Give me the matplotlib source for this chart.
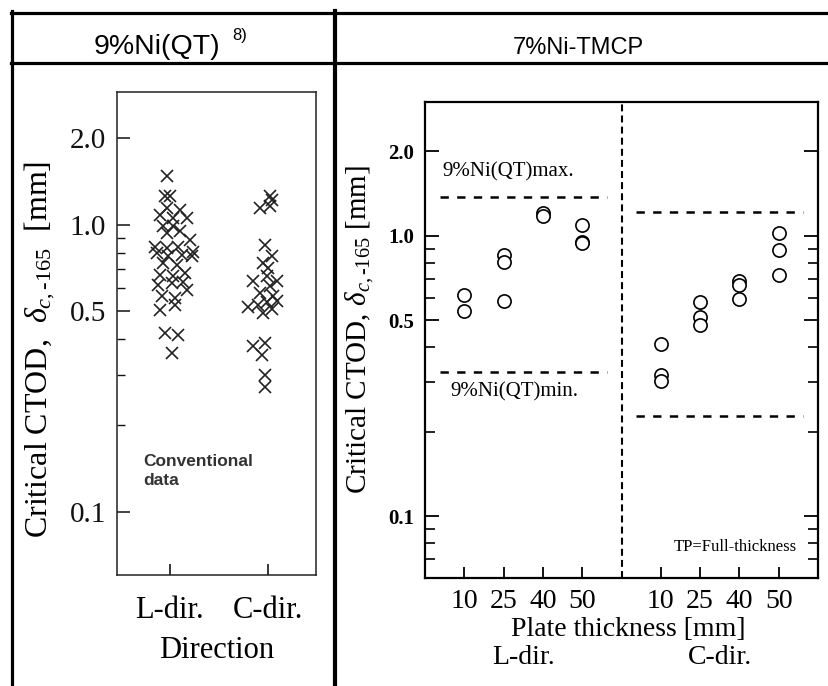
import numpy as np
import matplotlib.pyplot as plt
from matplotlib.lines import Line2D
from matplotlib.ticker import FixedLocator, NullFormatter
import matplotlib.transforms as mtransforms

plt.rcParams['mathtext.fontset'] = 'custom'
plt.rcParams['mathtext.rm'] = 'Liberation Serif'
plt.rcParams['mathtext.it'] = 'Liberation Serif:italic'
plt.rcParams['lines.scale_dashes'] = False

SERIF = 'Liberation Serif'
SANS = 'Liberation Sans'

# --- left panel: conventional 9%Ni(QT) data (x = jittered position around direction)
directions = ['L-dir.', 'C-dir.']
l_dir_x = [0.966, 0.949, 1.000, 0.966, 1.102, 0.898, 1.034, 1.170, 0.932, 1.034,
           0.966, 1.102, 0.847, 0.966, 1.085, 1.204, 1.238, 0.864, 0.983, 1.119,
           1.221, 0.932, 1.068, 0.898, 1.034, 1.153, 0.881, 1.017, 1.136, 1.170,
           0.915, 1.051, 0.898, 1.051, 0.949, 1.085, 1.017]
l_dir_y = [1.48, 1.26, 1.26, 1.14, 1.13, 1.08, 1.055, 1.055, 0.99, 0.99,
           0.935, 0.948, 0.84, 0.83, 0.84, 0.887, 0.807, 0.797, 0.776, 0.786,
           0.776, 0.735, 0.726, 0.669, 0.661, 0.679, 0.618, 0.626, 0.63, 0.594,
           0.563, 0.556, 0.506, 0.526, 0.42, 0.414, 0.357]
c_dir_x = [2.020, 2.037, 1.918, 2.020, 1.969, 2.037, 1.952, 2.003, 1.850, 1.986,
           2.088, 2.020, 1.918, 2.054, 1.799, 1.901, 1.986, 2.088, 1.952, 2.037,
           1.850, 1.969, 1.935, 1.969, 1.969]
c_dir_y = [1.255, 1.222, 1.143, 1.158, 0.852, 0.776, 0.735, 0.706, 0.635, 0.661,
           0.635, 0.61, 0.578, 0.565, 0.519, 0.526, 0.54, 0.541, 0.492, 0.51,
           0.377, 0.387, 0.352, 0.300, 0.273]

# --- right panel: 7%Ni-TMCP, CTOD per plate thickness
thickness = ['10', '25', '40', '50']
tmcp_l = [[0.616, 0.541], [0.855, 0.805, 0.583], [1.205, 1.172], [1.089, 0.946, 0.94]]
tmcp_c = [[0.41, 0.319, 0.302], [0.578, 0.512, 0.481], [0.687, 0.667, 0.594], [1.022, 0.891, 0.722]]
qt_l = [0.327, 1.38]   # 9%Ni(QT) min / max, L-dir
qt_c = [0.228, 1.22]   # 9%Ni(QT) min / max, C-dir

major = [0.1, 0.5, 1.0, 2.0]
major_lbl = ['0.1', '0.5', '1.0', '2.0']
ylab_left = r'Critical CTOD,  $\delta_{\mathit{c,}\text{-}\mathit{165}}$  [mm]'
ylab_right = r'Critical CTOD, $\delta_{\mathit{c,}\text{-}\mathit{165}}$ [mm]'

fig = plt.figure(figsize=(8.29, 6.86), dpi=100)
W, H = 829, 686


def fx(px):
    return px / W


def fy(py):
    return 1 - py / H


# table lines
lw_tab = 2.3
fig.add_artist(Line2D([fx(11), 1], [fy(12.5), fy(12.5)], color='k', lw=lw_tab))
fig.add_artist(Line2D([fx(11), 1], [fy(62.5), fy(62.5)], color='k', lw=lw_tab))
fig.add_artist(Line2D([fx(12.5), fx(12.5)], [fy(11), 0], color='k', lw=lw_tab))
fig.add_artist(Line2D([fx(335), fx(335)], [fy(11), 0], color='k', lw=3))

fig.text(fx(94), fy(54), '9%Ni(QT)', family=SANS, fontsize=20.5, ha='left', va='baseline')
fig.text(fx(232), fy(40), '8)', family=SANS, fontsize=12, ha='left', va='baseline')
fig.text(fx(578), fy(54), '7%Ni-TMCP', family=SANS, fontsize=17, ha='center', va='baseline')

# ---------------- left panel
ax1 = fig.add_axes([fx(117), fy(575), (316 - 117) / W, (575 - 92) / H])
ax1.plot(l_dir_x, l_dir_y, 'x', ms=8.5, mew=1.2, color='#222')
ax1.plot(c_dir_x, c_dir_y, 'x', ms=8.5, mew=1.2, color='#222')
ax1.set_yscale('log')
ax1.set_ylim(0.0603, 2.9)
ax1.set_xlim(0.46, 2.49)
ax1.yaxis.set_major_locator(FixedLocator(major))
ax1.set_yticklabels(major_lbl)
ax1.yaxis.set_minor_locator(FixedLocator([0.2, 0.3, 0.4, 0.6, 0.7, 0.8, 0.9]))
ax1.yaxis.set_minor_formatter(NullFormatter())
ax1.set_xticks([1, 2], directions)
ax1.tick_params(axis='y', which='major', direction='in', length=9, width=1.1,
                labelsize=21, pad=8, colors='#111')
ax1.tick_params(axis='y', which='minor', direction='in', length=6, width=1.0, colors='#111')
ax1.tick_params(axis='x', direction='in', length=8, width=1.1, labelsize=22, pad=15)
for lab in ax1.get_xticklabels() + ax1.get_yticklabels():
    lab.set_family(SERIF)
for s in ax1.spines.values():
    s.set_linewidth(1.1)
    s.set_color('#222')
ax1.set_xlabel('Direction', family=SERIF, fontsize=22, labelpad=8)
ax1.text(0.131, 0.215, 'Conventional\ndata', transform=ax1.transAxes, family=SANS,
         fontsize=12.5, fontweight='bold', color='#333', ha='left', va='center',
         linespacing=1.3)
fig.text(fx(40), fy(349), ylab_left, family=SERIF, fontsize=23, rotation=90,
         ha='center', va='center')

# ---------------- right panel
ax2 = fig.add_axes([fx(425), fy(578), (818 - 425) / W, (578 - 102) / H])
pos_l = np.arange(1, 5)
pos_c = np.arange(6, 10)
for p, vals in zip(pos_l, tmcp_l):
    ax2.plot([p] * len(vals), vals, 'o', ms=9.5, mfc='white', mec='k', mew=1.2)
for p, vals in zip(pos_c, tmcp_c):
    ax2.plot([p] * len(vals), vals, 'o', ms=9.5, mfc='white', mec='k', mew=1.2)
pad = 0.62
for y in qt_l:
    ax2.hlines(y, pos_l[0] - pad, pos_l[-1] + pad, colors='k', lw=1.8, linestyles=(0, (6, 6)))
for y in qt_c:
    ax2.hlines(y, pos_c[0] - pad, pos_c[-1] + pad, colors='k', lw=1.8, linestyles=(0, (6, 6)))
ax2.axvline((pos_l[-1] + pos_c[0]) / 2, color='k', lw=1.5, ls=(0, (5, 3)))
ax2.set_yscale('log')
ax2.set_ylim(0.0601, 3.0)
ax2.set_xlim(0, 10)
ax2.yaxis.set_major_locator(FixedLocator(major))
ax2.set_yticklabels(major_lbl)
ax2.yaxis.set_minor_locator(FixedLocator([0.07, 0.08, 0.09, 0.2, 0.3, 0.4, 0.6, 0.7, 0.8, 0.9]))
ax2.yaxis.set_minor_formatter(NullFormatter())
ax2.set_xticks(list(pos_l) + list(pos_c), thickness * 2)
ax2.tick_params(axis='y', which='major', direction='in', length=10, width=1.3,
                labelsize=15, pad=8, right=True)
ax2.tick_params(axis='y', which='minor', direction='in', length=7, width=1.2, right=True)
ax2.tick_params(axis='x', direction='in', length=8, width=1.3, labelsize=20, pad=8)
for lab in ax2.get_yticklabels():
    lab.set_family(SERIF)
    lab.set_fontweight('bold')
for lab in ax2.get_xticklabels():
    lab.set_family(SERIF)
for s in ax2.spines.values():
    s.set_linewidth(1.6)
ax2.text(0.043, 0.853, '9%Ni(QT)max.', transform=ax2.transAxes, family=SERIF,
         fontsize=15, ha='left', va='center')
ax2.text(0.064, 0.391, '9%Ni(QT)min.', transform=ax2.transAxes, family=SERIF,
         fontsize=15, ha='left', va='center')
ax2.text(0.947, 0.065, 'TP=Full-thickness', transform=ax2.transAxes, family=SERIF,
         fontsize=12, ha='right', va='center')
fig.text(fx(628), fy(630), 'Plate thickness [mm]', family=SERIF, fontsize=20,
         ha='center', va='center')
tr = mtransforms.blended_transform_factory(ax2.transData, fig.transFigure)
ax2.text(pos_l.mean(), fy(657), 'L-dir.', transform=tr, family=SERIF, fontsize=20,
         ha='center', va='center')
ax2.text(pos_c.mean(), fy(657), 'C-dir.', transform=tr, family=SERIF, fontsize=20,
         ha='center', va='center')
fig.text(fx(360), fy(330), ylab_right, family=SERIF, fontsize=21, rotation=90,
         ha='center', va='center')

fig.savefig('out.png', dpi=100)
